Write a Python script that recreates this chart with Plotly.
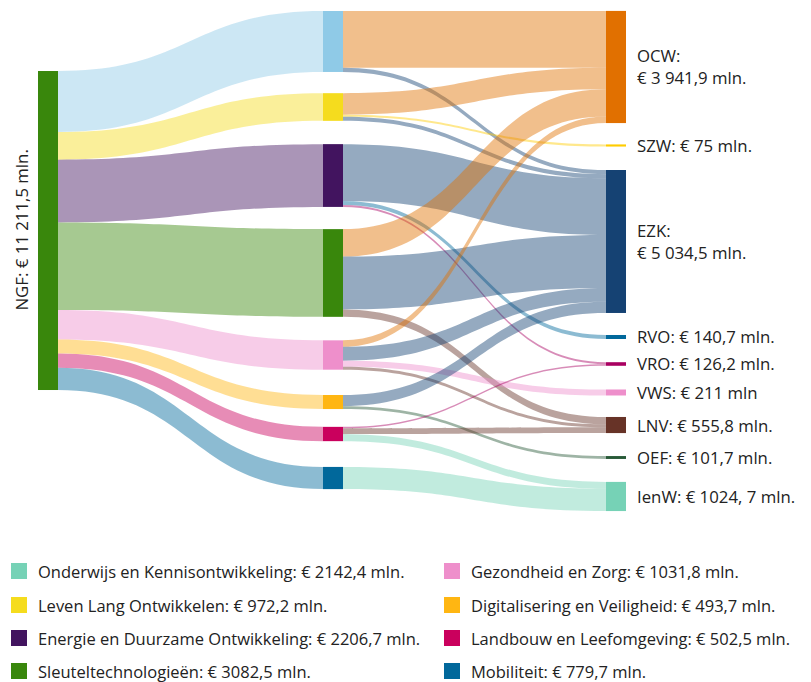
import plotly.graph_objects as go

# themes (middle column)
themes = ["Onderwijs en Kennisontwikkeling", "Leven Lang Ontwikkelen",
          "Energie en Duurzame Ontwikkeling", "Sleuteltechnologieën",
          "Gezondheid en Zorg", "Digitalisering en Veiligheid",
          "Landbouw en Leefomgeving", "Mobiliteit"]
theme_totals = ["2142,4", "972,2", "2206,7", "3082,5", "1031,8", "493,7", "502,5", "779,7"]
theme_colors = ["#8fcae7", "#f5dc1e", "#42145f", "#39870c", "#ee8fcb", "#ffb612", "#ca005d", "#01689b"]
legend_colors = ["#76d2b6", "#f5dc1e", "#42145f", "#39870c", "#ee8fcb", "#ffb612", "#ca005d", "#01689b"]

# ministries (right column)
ministries = ["OCW", "SZW", "EZK", "RVO", "VRO", "VWS", "LNV", "OEF", "IenW"]
ministry_labels = ["OCW:<br>€ 3 941,9 mln.", "SZW: € 75 mln.", "EZK:<br>€ 5 034,5 mln.",
                   "RVO: € 140,7 mln.", "VRO: € 126,2 mln.", "VWS: € 211 mln",
                   "LNV: € 555,8 mln.", "OEF: € 101,7 mln.", "IenW: € 1024, 7 mln."]
ministry_colors = ["#e17000", "#ffcc00", "#154273", "#01689b", "#a90061", "#ee8fcb",
                   "#673327", "#275937", "#76d2b6"]

source_label = "NGF: € 11 211,5 mln."
source_color = "#39870c"

# flows theme -> ministry (mln euro)
flow_theme = ["Onderwijs en Kennisontwikkeling", "Onderwijs en Kennisontwikkeling",
              "Leven Lang Ontwikkelen", "Leven Lang Ontwikkelen", "Leven Lang Ontwikkelen",
              "Energie en Duurzame Ontwikkeling", "Energie en Duurzame Ontwikkeling", "Energie en Duurzame Ontwikkeling",
              "Sleuteltechnologieën", "Sleuteltechnologieën", "Sleuteltechnologieën",
              "Gezondheid en Zorg", "Gezondheid en Zorg", "Gezondheid en Zorg", "Gezondheid en Zorg",
              "Digitalisering en Veiligheid", "Digitalisering en Veiligheid",
              "Landbouw en Leefomgeving", "Landbouw en Leefomgeving", "Landbouw en Leefomgeving",
              "Mobiliteit"]
flow_ministry = ["OCW", "EZK",
                 "OCW", "SZW", "EZK",
                 "EZK", "RVO", "VRO",
                 "OCW", "EZK", "LNV",
                 "OCW", "EZK", "VWS", "LNV",
                 "EZK", "OEF",
                 "VRO", "LNV", "IenW",
                 "IenW"]
flow_value = [1995.0, 147.4,
              755.0, 75.0, 142.2,
              1996.0, 140.7, 70.0,
              965.0, 1857.5, 260.0,
              226.9, 489.4, 211.0, 104.5,
              392.0, 101.7,
              56.2, 201.3, 245.0,
              779.7]
theme_values = [2142.4, 972.2, 2206.7, 3082.5, 1031.8, 493.7, 502.5, 779.7]

# node placement (fractions of the sankey domain)
theme_y = [0.0591, 0.1904, 0.3277, 0.5230, 0.6874, 0.7816, 0.8457, 0.9339]
ministry_y = [0.1102, 0.2675, 0.4599, 0.6513, 0.7054, 0.7625, 0.8277, 0.8928, 0.9709]


def rgba(hex_color, a):
    h = hex_color.lstrip("#")
    r, g, b = int(h[0:2], 16), int(h[2:4], 16), int(h[4:6], 16)
    return f"rgba({r},{g},{b},{a})"


# page has an 8px body margin, so the figure is drawn smaller and shifted
OFF = 8
W, H = 811 - OFF, 682 - OFF


def px(x):
    return (x - OFF) / W


def py(y):
    return 1 - (y - OFF) / H


dom_x = [px(38), px(626)]
dom_y = [py(511), py(12)]

n_t = len(themes)
labels = [""] * (1 + n_t + len(ministries))
node_colors = [source_color] + theme_colors + ministry_colors
node_x = [0.017] + [0.5017] * n_t + [0.983] * len(ministries)
node_y = [0.4379] + theme_y + ministry_y

src, tgt, val, lcol = [], [], [], []
for i, v in enumerate(theme_values):
    src.append(0)
    tgt.append(1 + i)
    val.append(v)
    lcol.append(rgba(theme_colors[i], 0.45))
for t, m, v in zip(flow_theme, flow_ministry, flow_value):
    j = ministries.index(m)
    src.append(1 + themes.index(t))
    tgt.append(1 + n_t + j)
    val.append(v)
    lcol.append(rgba(ministry_colors[j], 0.45))

fig = go.Figure(go.Sankey(
    arrangement="fixed",
    domain=dict(x=dom_x, y=dom_y),
    node=dict(label=labels, color=node_colors, x=node_x, y=node_y,
              pad=22.5, thickness=20, line=dict(width=0)),
    link=dict(source=src, target=tgt, value=val, color=lcol, line=dict(width=0)),
))

annotations = []
# ministry labels
for lab, fy in zip(ministry_labels, ministry_y):
    y = dom_y[1] - fy * (dom_y[1] - dom_y[0])
    annotations.append(dict(x=px(635), y=y, xref="paper", yref="paper", text=lab,
                            showarrow=False, xanchor="left", yanchor="middle", align="left",
                            font=dict(size=16.8, color="#222222")))
# NGF label
annotations.append(dict(x=px(22), y=dom_y[1] - 0.4379 * (dom_y[1] - dom_y[0]),
                        xref="paper", yref="paper", text=source_label, textangle=-90,
                        showarrow=False, xanchor="center", yanchor="middle",
                        font=dict(size=16.8, color="#222222")))

# legend
shapes = []
row_y = [571, 605, 638, 671]
for i, (name, tot, col) in enumerate(zip(themes, theme_totals, legend_colors)):
    c, r = divmod(i, 4)
    x0 = 11 if c == 0 else 444
    yc = row_y[r]
    shapes.append(dict(type="rect", xref="paper", yref="paper",
                       x0=px(x0), x1=px(x0 + 16), y0=py(yc + 8), y1=py(yc - 8),
                       fillcolor=col, line=dict(width=0)))
    annotations.append(dict(x=px(x0 + 25), y=py(yc), xref="paper", yref="paper",
                            text=f"{name}: € {tot} mln.", showarrow=False,
                            xanchor="left", yanchor="middle",
                            font=dict(size=16.5, color="#222222")))

fig.update_layout(
    width=W, height=H,
    margin=dict(l=0, r=0, t=0, b=0),
    paper_bgcolor="white",
    font=dict(family="Open Sans", size=15, color="#222222"),
    annotations=annotations,
    shapes=shapes,
)
fig.write_html("out.html")
